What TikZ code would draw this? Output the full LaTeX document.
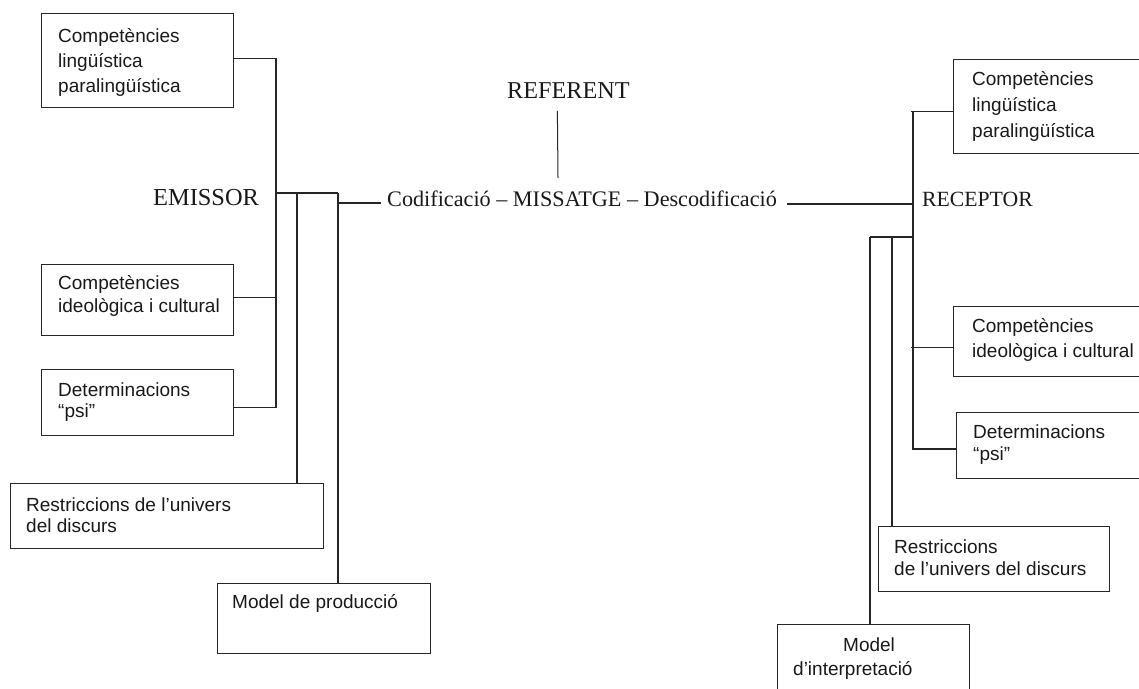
\documentclass[tikz,border=0pt]{standalone}
\usepackage{fontspec}
\setmainfont{Liberation Serif}
\newfontfamily\sansfnt{Liberation Sans}
\begin{document}
\begin{tikzpicture}[x=1pt,y=-1pt,
  line/.style={draw=black!85, line width=1.2pt},
  box/.style={draw=black!85, line width=1.3pt, rectangle, inner sep=0pt, anchor=north west},
  sans/.style={font=\fontsize{19}{#1}\sansfnt, inner sep=0pt, anchor=base west, align=left, text=black!90},
  sans/.default=22,
  serif/.style={font=\fontsize{#1}{26}\selectfont, inner sep=0pt, anchor=base west, text=black!90},
  serif/.default=22]
\useasboundingbox (0,0) rectangle (1139,688);
\clip (0,0) rectangle (1139,688);

% ---------- sender side: boxes ----------
\node[box, minimum width=192pt, minimum height=94pt] (el) at (41,13) {};
\node[box, minimum width=192pt, minimum height=71pt] (ei) at (41,264) {};
\node[box, minimum width=192pt, minimum height=66pt] (ep) at (41,369) {};
\node[box, minimum width=313pt, minimum height=65pt] (eu) at (10,483) {};
\node[box, minimum width=213pt, minimum height=70pt] (em) at (217,583) {};

% text nodes are placed by the baseline of their last line
\node[sans=25] (elt) at (58,92) {Competències\\lingüística\\paralingüística};
\node[sans=23] (eit) at (58,312) {Competències\\ideològica i cultural};
\node[sans=21] (ept) at (58,417) {Determinacions\\“psi”};
\node[sans=21] (eut) at (26,532) {Restriccions de l’univers\\del discurs};
\node[sans] (emt) at (232,608) {Model de producció};

% ---------- receiver side: boxes ----------
\node[box, minimum width=220pt, minimum height=94pt] (rl) at (953,59) {};
\node[box, minimum width=220pt, minimum height=70pt] (ri) at (953,306) {};
\node[box, minimum width=220pt, minimum height=66pt] (rp) at (956,412) {};
\node[box, minimum width=231pt, minimum height=65pt] (ru) at (878,526) {};
\node[box, minimum width=192pt, minimum height=90pt] (rm) at (777,624) {};

\node[sans=26] (rlt) at (972,137) {Competències\\lingüística\\paralingüística};
\node[sans=24.5] (rit) at (972,357) {Competències\\ideològica i cultural};
\node[sans=22] (rpt) at (973,460) {Determinacions\\“psi”};
\node[sans=22] (rut) at (894,575) {Restriccions\\de l’univers del discurs};
\node[sans=23.3] (rmt) at (793,675) {\hspace*{50pt}Model\\d’interpretació};

% ---------- central labels ----------
\node[serif=24.4] (emissor) at (153,205) {EMISSOR};
\node[serif=24.2] (referent) at (507,98) {REFERENT};
\node[serif=22.2] (msg) at (387,206) {Codificació – MISSATGE – Descodificació};
\node[serif=21.7] (receptor) at (922,206) {RECEPTOR};

% ---------- junction points ----------
\coordinate (ej) at (276,193);
\coordinate (ea) at (297,193);
\coordinate (ek) at (338,193);
\coordinate (refend) at (558,178);
\coordinate (rj) at (913,204);
\coordinate (rk) at (913,237);
\coordinate (ra) at (892,237);
\coordinate (rb) at (870,237);

% ---------- sender connectors ----------
\draw[line] ([yshift=2pt]el.east) -| (ej);
\draw[line] ([yshift=-5pt]ep.east) -| (ej);
\draw[line] ([yshift=2.5pt]ei.east) -- ++(43pt,0pt);
\draw[line] (ej) -- (ek);
\draw[line] (ea) -- (ea |- eu.north);
\draw[line] (ek) -- (ek |- em.north);
\draw[line] (ek |- 0,203) -- ([shift={(-6pt,3pt)}]msg.base west);

% ---------- referent ----------
\draw[line, line width=1pt] ([shift={(-11pt,-13pt)}]referent.base) -- (refend);

% ---------- receiver connectors ----------
\draw[line] ([shift={(10pt,2pt)}]msg.base east) -- (rj);
\draw[line] ([yshift=-5pt]rl.west) -- ++(-42pt,0pt) coordinate (rtop);
\draw[line] (rj |- rtop) -- (rj |- 0,449) -- (rp.west |- 0,449);
\draw[line] ([yshift=-6pt]ri.west) -- ++(-42pt,0pt);
\draw[line] (rk) -- (rb);
\draw[line] (ra) -- (ra |- ru.north);
\draw[line] (rb) -- (rb |- rm.north);
\end{tikzpicture}
\end{document}
